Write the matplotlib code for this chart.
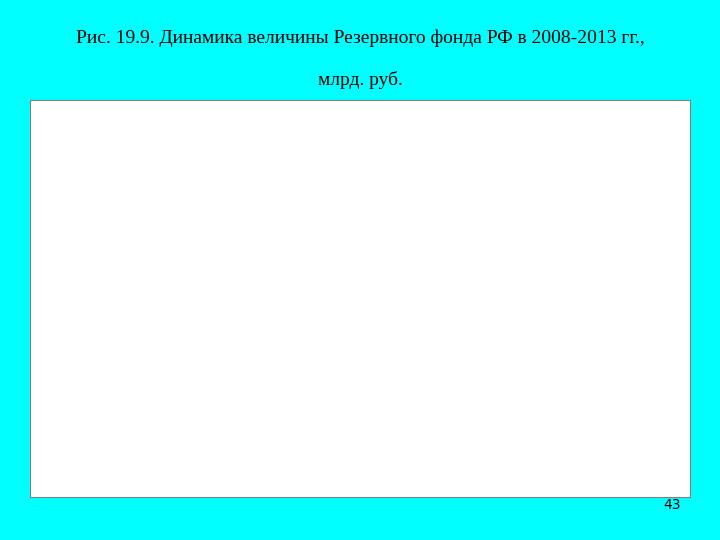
import matplotlib
matplotlib.use("Agg")
import matplotlib.pyplot as plt
from matplotlib.patches import Rectangle

months = []
for y in range(2008, 2014):
    for m in range(1, 13):
        if (y == 2008 and m < 2) or (y == 2013 and m > 4):
            continue
        months.append(f"01_{m:02d}_{y}")
values = [3058, 3090, 3070, 3070, 3070, 3060, 3040, 3500, 3570, 3580, 3660,
          4030, 4870, 4870, 4120, 3560, 3130, 2970, 2810, 2700, 2300, 2250, 2250,
          1830, 1830, 1764, 1550, 1200, 1200, 1230, 1230, 1250, 1280, 1300, 1300,
          790, 790, 770, 760, 760, 760, 760, 760, 790, 840, 810, 815, 812,
          1880, 1830, 1840, 1840, 1960, 2000, 1950, 1960, 1900, 1940, 1920, 1900,
          2600, 2600, 2620]
annotations = [("3058", 2.0, 3900), ("4870", 10.5, 5080), ("1764", 26.5, 2200),
               ("1,863", 48.5, 2230), ("812", 46.0, 1270), ("2589", 60.5, 2770)]

fig = plt.figure(figsize=(7.2, 5.4), dpi=100)
fig.patch.set_facecolor("#00FFFF")
fig.add_artist(Rectangle((30/720, 1-497/540), 660/720, 397/540, transform=fig.transFigure,
                         facecolor="white", edgecolor="#808080", lw=0.8))
fig.text(0.5, 1-38/540, "Рис. 19.9. Динамика величины Резервного фонда РФ в 2008-2013 гг.,",
         ha="center", va="center", fontsize=14, family="Liberation Serif")
fig.text(0.5, 1-80/540, "млрд. руб.", ha="center", va="center", fontsize=14, family="Liberation Serif")
fig.text(672/720, 1-505/540, "43", ha="center", va="center", fontsize=10)

ax = fig.add_axes([80/720, 1-400/540, 553/720, 287/540])
ax.set_facecolor("#FFFF00")
x = list(range(len(values)))
ax.bar(x, values, width=0.45, color="#000080", zorder=3)
ax.set_xlim(-0.6, len(values) - 0.4)
ax.set_ylim(0, 5000)
ax.set_yticks(range(0, 5001, 500))
ax.yaxis.grid(True, color="black", lw=0.8, zorder=0)
ax.tick_params(axis="y", labelsize=6.5)
ax.set_xticks(x[::2])
ax.set_xticklabels(months[::2], rotation=90, fontsize=5.5)
for s in ["top", "right"]:
    ax.spines[s].set_visible(False)
for t, xi, yi in annotations:
    ax.text(xi, yi, t, fontsize=6.5, ha="center", va="center", clip_on=False)
fig.savefig("out.png", dpi=100, facecolor=fig.get_facecolor())
